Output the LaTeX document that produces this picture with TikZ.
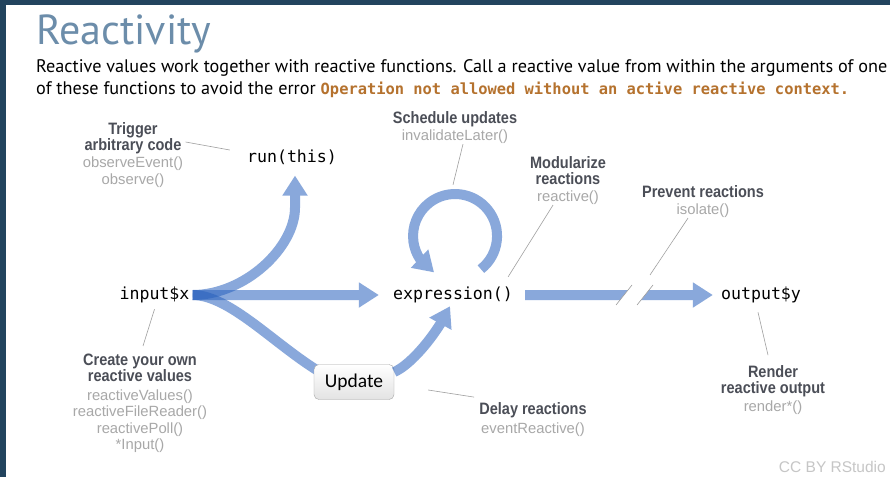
\documentclass[tikz,border=0pt]{standalone}
\usepackage{fontspec}
\setmainfont{Liberation Sans}
\newfontfamily\slidefont{PT Sans}
\newfontfamily\codefont{DejaVu Sans Mono}
\newfontfamily\narrowfont[FakeStretch=0.88]{Liberation Sans}
\newfontfamily\buttonfont{Carlito}
\usetikzlibrary{arrows.meta,bending}
\definecolor{slidenavy}{HTML}{22445E}
\definecolor{titleblue}{HTML}{6C8DAA}
\definecolor{errorbrown}{HTML}{B5722E}
\definecolor{headgrey}{HTML}{4B4E57}
\definecolor{fungrey}{HTML}{A8A8A8}
\definecolor{flowblue}{HTML}{2962BE}
\begin{document}
\begin{tikzpicture}[x=1pt,y=1pt,line join=round,
  code/.style={font=\codefont\fontsize{16.6}{18}\selectfont,inner sep=3pt},
  head/.style={font=\narrowfont\bfseries\fontsize{16.5}{16}\selectfont,text=headgrey,align=center,inner sep=0pt},
  fun/.style={font=\fontsize{14.8}{16.5}\selectfont,text=fungrey,align=center,inner sep=0pt},
  intro/.style={font=\slidefont\fontsize{18.2}{22}\selectfont,anchor=base west,inner sep=0pt},
  flow/.style={line width=10pt,flowblue,-{Triangle[width=24pt,length=20pt]}},
  pointer/.style={draw=gray!75,line width=0.6pt},
  button/.style={draw=gray!70,rounded corners=5pt,top color=white,bottom color=gray!22,
    minimum width=80pt,minimum height=35pt,font=\buttonfont\fontsize{19.5}{20}\selectfont}]
  \clip (0,0) rectangle (890,-477);
  \fill[white] (0,0) rectangle (890,-477);
  \fill[slidenavy] (0,0) rectangle (890,-5);
  \fill[slidenavy] (0,0) rectangle (6,-477);
  \node[anchor=base west,inner sep=0pt,font=\slidefont\fontsize{42}{42}\selectfont,text=titleblue] (title) at (36,-44) {Reactivity};
  \node[intro] (introa) at (36,-72) {Reactive values work together with reactive functions. Call a reactive value from within the arguments of one};
  \node[intro] (introb) at (36,-94) {of these functions to avoid the error {\codefont\bfseries\fontsize{15.4}{18}\selectfont\color{errorbrown}Operation not allowed without an active reactive context.}};
  \node[code] (input) at (154.5,-295) {input\$x};
  \node[code] (run) at (292,-157) {run(this)};
  \node[code] (expr) at (453,-295) {expression()};
  \node[code] (output) at (761,-295) {output\$y};
  \coordinate (cut) at (634,-295);
  \begin{scope}[transparency group,opacity=0.55]
    \draw[flow,shorten >=8pt] (input.east) .. controls +(52,0) and +(0,-40) .. ([shift={(3,-40)}]run.south) -- ([xshift=3pt]run.south);
  \end{scope}
  \begin{scope}[transparency group,opacity=0.55]
    \draw[flow,shorten >=11pt] (input.east) -- (expr.west);
  \end{scope}
  \begin{scope}[transparency group,opacity=0.55]
    \draw[line width=10pt,flowblue] (input.east) .. controls +(37,0) and +(-45,27) .. (320,-372);
  \end{scope}
  \node[button] (update) at (354,-382) {Update};
  \begin{scope}[transparency group,opacity=0.55]
    \draw[flow] ([yshift=10pt]update.east) .. controls +(18,8) and +(-12,-26) .. ([xshift=-3pt]expr.south);
  \end{scope}
  \begin{scope}[transparency group,opacity=0.55]
    \draw[flow] ([shift={(27.9,25.9)}]expr.center) arc[start angle=-52,end angle=240,radius=42];
  \end{scope}
  \begin{scope}[transparency group,opacity=0.55]
    \draw[flow,shorten <=9pt,shorten >=5pt] (expr.east) -- (output.west);
  \end{scope}
  \fill[white] ([shift={(-18,-10)}]cut) -- ([shift={(-2,10)}]cut) -- ([shift={(19,10)}]cut) -- ([shift={(3,-10)}]cut) -- cycle;
  \draw[pointer] ([shift={(-18,-10)}]cut) -- ([shift={(-2,10)}]cut);
  \draw[pointer] ([shift={(3,-10)}]cut) -- ([shift={(19,10)}]cut);
  \node[head] (trigger) at (133,-138) {Trigger\\arbitrary code};
  \node[fun] (triggerfun) at (133,-172) {observeEvent()\\observe()};
  \node[head] (schedule) at (455,-119) {Schedule updates};
  \node[fun] (schedulefun) at (455,-137) {invalidateLater()};
  \node[head] (modular) at (568,-171) {Modularize\\reactions};
  \node[fun] (modularfun) at (568,-198) {reactive()};
  \node[head] (prevent) at (703,-192) {Prevent reactions};
  \node[fun] (preventfun) at (703,-211) {isolate()};
  \node[head] (create) at (140,-368) {Create your own\\reactive values};
  \node[fun] (createfun) at (140,-421) {reactiveValues()\\reactiveFileReader()\\reactivePoll()\\*Input()};
  \node[head] (delay) at (533,-410) {Delay reactions};
  \node[fun] (delayfun) at (533,-430) {eventReactive()};
  \node[head] (render) at (773,-381) {Render\\reactive output};
  \node[fun] (renderfun) at (773,-408) {render*()};
  \node[anchor=east,inner sep=0pt,font=\fontsize{15.5}{16}\selectfont,text=gray!45] (credit) at (886,-467) {CC BY RStudio};
  \draw[pointer] ([shift={(4,-4)}]trigger.east) -- ([shift={(-14,7)}]run.west);
  \draw[pointer] ([xshift=8pt]schedulefun.south) -- ([shift={(0,99)}]expr.north);
  \draw[pointer] ([xshift=-15pt]modularfun.south) -- ([shift={(-8,7)}]expr.north east);
  \draw[pointer] ([xshift=-15pt]preventfun.south) -- ([shift={(16,20)}]cut);
  \draw[pointer] ([shift={(0,-3)}]input.south) -- ([shift={(3,8)}]create.north);
  \draw[pointer] ([shift={(-3,-6)}]output.south) -- ([shift={(-5,10)}]render.north);
  \draw[pointer] ([shift={(34,-8)}]update.east) -- ([shift={(-5,5)}]delay.north west);
\end{tikzpicture}
\end{document}
